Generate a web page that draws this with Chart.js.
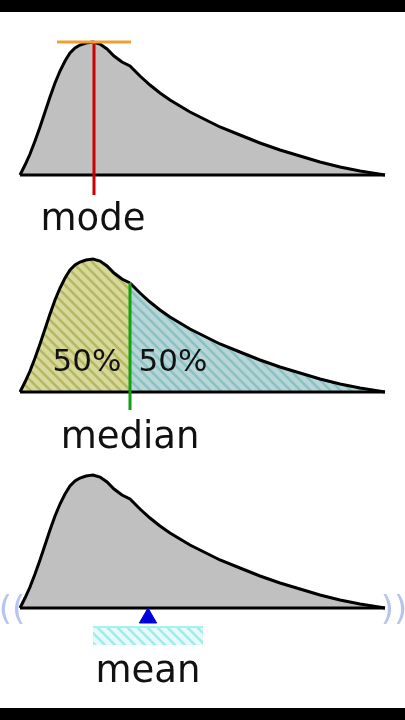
<!DOCTYPE html>
<html><head><meta charset="utf-8">
<script src="https://cdn.jsdelivr.net/npm/chart.js@4"></script>
<style>
body{margin:0;background:#000;}
#wrap{position:relative;width:405px;height:720px;background:#000;}
#inner{position:absolute;left:0;top:12px;width:405px;height:696px;background:#fff;}
canvas{position:absolute;left:0;top:0;}
.lbl{position:absolute;font-family:"DejaVu Sans",sans-serif;color:#111;transform:translateX(-50%);white-space:nowrap;}
</style></head><body>
<div id="wrap"><div id="inner"></div>
<canvas id="c" width="405" height="720"></canvas>
<div class="lbl" style="left:93px;top:196px;font-size:37px">mode</div>
<div class="lbl" style="left:130px;top:414px;font-size:37px">median</div>
<div class="lbl" style="left:87px;top:342px;font-size:31px">50%</div>
<div class="lbl" style="left:173px;top:342px;font-size:31px">50%</div>
<div class="lbl" style="left:148px;top:648px;font-size:37px">mean</div>
<div class="lbl" style="left:12px;top:588px;font-size:34px;color:#b8c4f0">((</div>
<div class="lbl" style="left:394px;top:588px;font-size:34px;color:#b8c4f0">))</div>
</div>
<script>
// shape of the skewed curve: x position and height above baseline
const curveX = [20, 25, 30, 35, 40, 45, 50, 55, 60, 65, 70, 75, 80, 86, 93, 100, 107, 114, 122, 130, 140, 150, 160, 170, 180, 190, 200, 220, 240, 260, 280, 300, 320, 340, 360, 385];
const curveH = [0, 10, 21, 34, 48, 63, 78, 92, 104, 114, 122, 127, 130, 132, 133, 131, 126, 119, 113, 109, 99, 90, 82, 75, 69, 63, 58, 48, 40, 32, 25, 19, 13, 8, 4, 0];
const baselines = [175, 392, 608];
const medianX = 130;

function pts(base, from, to) {
    const out = [];
    curveX.forEach((x, i) => {
        if (x >= from && x <= to) out.push({x: x, y: base - curveH[i]});
    });
    return out;
}

function hatch(bg, line) {
    const p = document.createElement('canvas');
    p.width = 10; p.height = 10;
    const g = p.getContext('2d');
    g.fillStyle = bg; g.fillRect(0, 0, 10, 10);
    g.strokeStyle = line; g.lineWidth = 2.5;
    g.beginPath();
    g.moveTo(0, 0); g.lineTo(10, 10);
    g.moveTo(-5, 5); g.lineTo(5, 15);
    g.moveTo(5, -5); g.lineTo(15, 5);
    g.stroke();
    return g.createPattern(p, 'repeat');
}

const ctx = document.getElementById('c').getContext('2d');
const b1 = baselines[0], b2 = baselines[1], b3 = baselines[2];
const medianTop = pts(b2, medianX, medianX)[0].y;

const line = (data, color, w) => ({type: 'line', data: data, borderColor: color, borderWidth: w, pointRadius: 0, fill: false, tension: 0});
const area = (data, base, bg) => ({type: 'line', data: data, borderColor: '#000', borderWidth: 3, pointRadius: 0, tension: 0, fill: {value: base}, backgroundColor: bg});

new Chart(ctx, {
    type: 'line',
    data: {
        datasets: [
            {type: 'scatter', data: [{x: 148, y: 618}], pointStyle: 'triangle', pointRadius: 10, backgroundColor: '#0000dd', borderColor: '#0000dd'},
            line([{x: 57, y: 42}, {x: 131, y: 42}], '#f0a030', 3),
            line([{x: 94, y: 42}, {x: 94, y: 195}], '#cc0000', 3),
            line([{x: medianX, y: medianTop}, {x: medianX, y: 410}], '#10a010', 3),
            line([{x: 20, y: b1}, {x: 385, y: b1}], '#000', 3),
            line([{x: 20, y: b2}, {x: 385, y: b2}], '#000', 3),
            line([{x: 20, y: b3}, {x: 385, y: b3}], '#000', 3),
            {type: 'line', data: [{x: 93, y: 627}, {x: 203, y: 627}], borderColor: '#aee', borderWidth: 2, pointRadius: 0, fill: {value: 645}, backgroundColor: hatch('#e6fafa', '#9ee')},
            area(pts(b1, 0, 999), b1, '#c0c0c0'),
            area(pts(b2, 0, medianX), b2, hatch('#d7d89a', '#b4b860')),
            area(pts(b2, medianX, 999), b2, hatch('#b9d6d6', '#86c3c6')),
            area(pts(b3, 0, 999), b3, '#c0c0c0')
        ]
    },
    options: {
        responsive: false,
        animation: false,
        layout: {padding: 0, autoPadding: false},
        plugins: {legend: {display: false}, tooltip: {enabled: false}},
        scales: {
            x: {type: 'linear', min: 0, max: 405, display: false},
            y: {type: 'linear', min: 0, max: 720, reverse: true, display: false}
        }
    }
});
</script>
</body></html>
